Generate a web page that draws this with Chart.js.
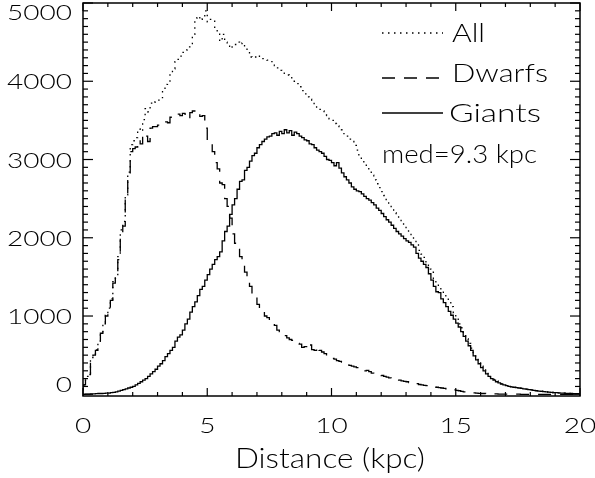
<!DOCTYPE html>
<html><head><meta charset="utf-8">
<script src="https://cdn.jsdelivr.net/npm/chart.js@4/dist/chart.umd.min.js"></script>
<style>html,body{margin:0;padding:0;background:#fff;}canvas{display:block;}</style>
</head><body>
<canvas id="c" width="595" height="478"></canvas>
<script>
// ---- data (histograms, bin width 0.1 kpc, bins start at 0) ----
const binWidth = 0.1;
const allStars = [
  50,120,230,260,470,500,570,670,790,910,
  1010,1100,1220,1440,1510,1760,2100,2210,2550,2840,
  3190,3240,3280,3390,3360,3510,3650,3610,3720,3710,
  3740,3760,3790,3890,3960,3990,4100,4160,4250,4280,
  4320,4370,4400,4440,4480,4600,4810,4830,4780,4800,
  4900,4760,4790,4780,4680,4610,4510,4600,4500,4480,
  4420,4460,4470,4500,4470,4490,4420,4380,4310,4300,
  4310,4300,4320,4290,4280,4270,4260,4250,4200,4170,
  4140,4120,4100,4080,4070,4030,4000,3970,3930,3880,
  3840,3800,3770,3730,3700,3670,3640,3620,3590,3560,
  3520,3500,3460,3430,3400,3380,3330,3300,3260,3230,
  3180,3120,3040,2990,2950,2900,2860,2800,2740,2690,
  2640,2590,2540,2480,2430,2380,2320,2280,2240,2200,
  2150,2100,2060,2010,1970,1920,1840,1790,1750,1680,
  1600,1560,1480,1420,1380,1330,1290,1240,1180,1120,
  1040,970,900,850,780,710,650,590,520,460,
  410,360,320,280,245,210,190,170,150,135,
  125,115,105,98,92,88,82,77,72,67,
  62,57,52,47,42,39,36,31,29,26,
  23,21,19,16,15,13,11,10,9,8
];
const dwarfs = [
  50,120,230,250,470,500,560,660,780,900,
  1000,1090,1200,1420,1480,1720,2050,2150,2480,2760,
  3100,3140,3160,3250,3200,3330,3300,3230,3400,3420,
  3420,3440,3450,3460,3480,3470,3540,3560,3570,3580,
  3560,3590,3580,3520,3600,3620,3630,3620,3550,3560,
  3400,3220,3200,3100,2960,2880,2700,2680,2500,2400,
  2250,2050,1930,1880,1760,1720,1560,1480,1380,1250,
  1240,1150,1070,1060,1000,980,930,900,880,820,
  800,770,750,720,700,690,650,650,640,600,
  610,580,630,570,560,610,560,540,520,480,
  460,460,450,430,420,410,400,390,370,360,
  350,340,330,310,300,305,290,270,260,250,
  245,240,230,220,210,205,195,185,180,170,
  165,160,150,145,140,135,125,120,115,110,
  110,100,95,90,85,80,75,70,65,60,
  55,50,45,38,30,28,25,20,18,15,
  12,10,10,8,6,5,5,4,3,3,
  2,2,2,1,1,1,1,0,0,0,
  0,0,0,0,0,0,0,0,0,0,
  0,0,0,0,0,0,0,0,0,0
];
const giants = [
  0,0,2,3,5,5,8,10,10,12,
  15,15,20,25,30,40,50,60,70,80,
  90,100,120,140,160,180,200,230,260,290,
  320,360,390,430,480,520,560,600,680,730,
  760,820,900,960,1050,1120,1180,1260,1340,1380,
  1460,1530,1600,1660,1720,1760,1820,1960,2080,2150,
  2300,2420,2500,2620,2720,2740,2860,2900,2980,3050,
  3080,3150,3190,3230,3260,3290,3300,3330,3340,3310,
  3360,3330,3380,3340,3370,3310,3350,3330,3300,3280,
  3250,3240,3200,3190,3150,3120,3100,3080,3040,3000,
  2990,2960,2920,2960,2890,2830,2780,2740,2700,2650,
  2620,2600,2590,2560,2530,2500,2480,2450,2420,2380,
  2350,2310,2270,2230,2200,2160,2120,2080,2050,2020,
  1990,1960,1940,1910,1880,1800,1740,1700,1660,1620,
  1540,1460,1380,1310,1300,1220,1170,1120,1060,1010,
  960,910,860,800,740,680,620,560,490,440,
  390,340,300,260,230,200,180,160,145,130,
  120,110,100,95,90,85,80,75,70,65,
  60,55,50,45,40,38,35,30,28,25,
  22,20,18,15,15,12,10,10,8,8
];
const xTicks = [0, 5, 10, 15, 20];
const xTickLabels = ['0', '5', '10', '15', '20'];
const yTicks = [0, 1000, 2000, 3000, 4000, 5000];
const yTickLabels = ['0', '1000', '2000', '3000', '4000', '5000'];
const xMinorStep = 1, yMinorStep = 100;
const xTitle = 'Distance (kpc)';
const seriesNames = ['All', 'Dwarfs', 'Giants'];
const noteText = 'med=9.3 kpc';

// ---- styles ----
const FONT = "Lato, 'DejaVu Sans', sans-serif";
const DOT = [1.5, 4.5], DASH = [13, 9], SOLID = [];
const LW = 1.3;

function toSteps(vals) {
  const pts = vals.map((v, i) => ({ x: +(i * binWidth).toFixed(2), y: v }));
  pts.push({ x: +(vals.length * binWidth).toFixed(2), y: vals[vals.length - 1] });
  return pts;
}

function fitText(ctx, text, x, baseline, size, width, align, weight) {
  ctx.font = `${weight || 300} ${size}px ${FONT}`;
  const w = ctx.measureText(text).width;
  const sx = width ? width / w : 1;
  ctx.save();
  ctx.translate(x, baseline);
  ctx.scale(sx, 1);
  ctx.textAlign = align || 'left';
  ctx.textBaseline = 'alphabetic';
  ctx.fillStyle = '#000';
  ctx.fillText(text, 0, 0);
  ctx.restore();
}

const idlAxes = {
  id: 'idlAxes',
  afterDraw(chart) {
    const { ctx, chartArea: a, scales: { x, y } } = chart;
    ctx.save();
    ctx.strokeStyle = '#000';
    ctx.setLineDash([]);
    ctx.lineWidth = 1.5;
    ctx.strokeRect(a.left, a.top, a.right - a.left, a.bottom - a.top);
    ctx.lineWidth = 1.2;
    const seg = (x1, y1, x2, y2) => { ctx.beginPath(); ctx.moveTo(x1, y1); ctx.lineTo(x2, y2); ctx.stroke(); };
    // x ticks (bottom + top, inward)
    for (let v = x.min; v <= x.max + 1e-9; v += xMinorStep) {
      const px = x.getPixelForValue(v);
      const L = xTicks.includes(Math.round(v)) ? 8 : 4;
      seg(px, a.bottom, px, a.bottom - L);
      seg(px, a.top, px, a.top + L);
    }
    // y ticks (left + right, inward)
    for (let v = 0; v <= y.max + 1e-9; v += yMinorStep) {
      const py = y.getPixelForValue(v);
      const L = yTicks.includes(Math.round(v)) ? 10 : 5;
      seg(a.left, py, a.left + L, py);
      seg(a.right, py, a.right - L, py);
    }
    // tick labels
    const tsize = 22;
    ctx.font = `300 ${tsize}px ${FONT}`;
    const refW = ctx.measureText('5000').width;
    const sx = 65 / refW;
    yTicks.forEach((v, i) => {
      const py = y.getPixelForValue(v);
      let base = py + 8;
      base = Math.max(a.top + 17, Math.min(a.bottom - 4, base));
      const w = ctx.measureText(yTickLabels[i]).width * sx;
      fitText(ctx, yTickLabels[i], 72, base, tsize, w, 'right');
      ctx.font = `300 ${tsize}px ${FONT}`;
    });
    xTicks.forEach((v, i) => {
      const px = x.getPixelForValue(v);
      const w = ctx.measureText(xTickLabels[i]).width * sx;
      fitText(ctx, xTickLabels[i], px, 433, tsize, w, 'center');
      ctx.font = `300 ${tsize}px ${FONT}`;
    });
    // axis title
    fitText(ctx, xTitle, 235, 468, 27, 190, 'left');
    // legend
    const dashes = [DOT, DASH, SOLID];
    const lineY = [33, 78, 113];
    const textBase = [42, 82, 122];
    const textX = [452, 452, 449];
    const textW = [33, 96, 92];
    ctx.lineWidth = LW;
    seriesNames.forEach((n, i) => {
      ctx.setLineDash(dashes[i]);
      seg(382, lineY[i], 443, lineY[i]);
      ctx.setLineDash([]);
      fitText(ctx, n, textX[i], textBase[i], 25, textW[i], 'left');
    });
    fitText(ctx, noteText, 382, 163, 25, 155, 'left');
    ctx.restore();
  }
};

const ds = (label, vals, dash) => ({
  label, data: toSteps(vals), stepped: 'after', borderColor: '#000',
  borderWidth: LW, borderDash: dash, pointRadius: 0, fill: false, tension: 0
});

new Chart(document.getElementById('c'), {
  type: 'line',
  data: { datasets: [ds(seriesNames[0], allStars, DOT), ds(seriesNames[1], dwarfs, DASH), ds(seriesNames[2], giants, SOLID)] },
  options: {
    responsive: false, animation: false, events: [],
    layout: { padding: { left: 83, right: 15, top: 3, bottom: 82 } },
    plugins: { legend: { display: false }, tooltip: { enabled: false } },
    scales: {
      x: { type: 'linear', min: 0, max: 20, display: false },
      y: { type: 'linear', min: -22, max: 5000, display: false }
    }
  },
  plugins: [idlAxes]
});
</script>
</body></html>
